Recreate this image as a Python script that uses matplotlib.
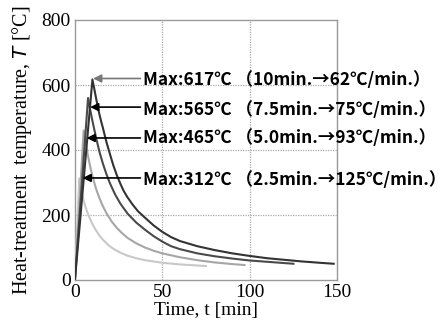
import matplotlib
matplotlib.use("Agg")
import matplotlib.pyplot as plt

# --- data ---
t_617 = [0, 10, 11, 12, 13, 14, 15, 16, 18, 20, 22, 24, 26, 28, 30, 33, 36, 40, 45,
         50, 55, 60, 70, 80, 90, 100, 110, 120, 130, 140, 148]
T_617 = [0, 617, 590, 562, 535, 510, 488, 468, 425, 388, 352, 322, 296, 273, 255, 232, 212, 192, 168,
         148, 132, 120, 104, 92, 82, 74, 67, 62, 57, 53, 50]

t_565 = [0, 7.5, 8.5, 10, 12, 14, 16, 18, 20, 23, 26, 30, 35, 40, 45, 50, 55, 60, 70, 80,
         90, 100, 110, 120, 125]
T_565 = [0, 560, 530, 490, 440, 395, 358, 326, 298, 263, 235, 205, 177, 155, 135, 118, 104, 95, 82, 73,
         66, 60, 56, 52, 50]

t_465 = [0, 5, 6, 7, 8, 9, 10, 12, 14, 16, 18, 21, 24, 27, 30, 35, 40, 45, 50, 60, 70, 80, 90, 97]
T_465 = [0, 460, 425, 395, 368, 343, 320, 282, 252, 227, 206, 180, 160, 144, 130, 113, 100, 90, 82,
         70, 61, 54, 49, 46]

t_312 = [0, 2.5, 3, 4, 5, 6, 7, 8, 10, 12, 14, 16, 19, 22, 26, 30, 35, 40, 50, 60, 75]
T_312 = [0, 312, 295, 268, 245, 226, 210, 196, 172, 153, 137, 124, 108, 96, 84, 75, 67, 61, 53, 48, 43]

labels = ["Max:617℃ （10min.→62℃/min.）",
          "Max:565℃ （7.5min.→75℃/min.）",
          "Max:465℃ （5.0min.→93℃/min.）",
          "Max:312℃ （2.5min.→125℃/min.）"]
label_T = [615, 523, 437, 308]          # label heights (data units)
arrow_tip_t = [10.4, 8.7, 6.7, 4.4]
arrow_tip_T = [620, 532, 437, 314]
arrow_colors = ["#777777", "black", "black", "black"]

xticks = [0, 50, 100, 150]
yticks = [0, 200, 400, 600, 800]

fig = plt.figure(figsize=(4.46, 3.2), dpi=100)
ax = fig.add_axes([0.168, 0.125, 0.588, 0.8125])

series = [(t_312, T_312, "#c8c8c8"), (t_465, T_465, "#a6a6a6"),
          (t_565, T_565, "#4a4a4a"), (t_617, T_617, "#333333")]
for t, T, c in series:
    ax.plot(t, T, color=c, lw=1.5, solid_joinstyle="round", zorder=3)

ax.set_xlim(0, 150)
ax.set_ylim(0, 800)
ax.set_xticks(xticks)
ax.set_yticks(yticks)
ax.tick_params(length=0, labelsize=14, pad=3)
for lab in ax.get_xticklabels() + ax.get_yticklabels():
    lab.set_family("Liberation Serif")
for s in ax.spines.values():
    s.set_color("#999999")
    s.set_linewidth(1.0)

for y in [200, 400, 600]:
    ax.axhline(y, color="#aaaaaa", lw=0.9, ls=(0, (1, 1)), zorder=1)
for x in [50, 100]:
    ax.axvline(x, color="#aaaaaa", lw=0.9, ls=(0, (1, 1)), zorder=1)

ax.set_ylabel("Heat-treatment  temperature, $T$ [°C]", family="Liberation Serif",
              fontsize=14.5, labelpad=5)
ax.set_xlabel("Time, t [min]", family="Liberation Serif", fontsize=14, labelpad=0.5)

for lab, ly, tt, tT, ac in zip(labels, label_T, arrow_tip_t, arrow_tip_T, arrow_colors):
    ax.annotate("", xy=(tt, tT), xytext=(37.5, tT),
                arrowprops=dict(arrowstyle="-|>", color=ac, lw=1.2,
                                mutation_scale=12, shrinkA=0, shrinkB=0),
                zorder=4)
    ax.text(39.2, ly, lab, fontsize=12.5, fontweight="bold",
            family=["Noto Sans CJK JP", "DejaVu Sans"], va="center", ha="left",
            clip_on=False, zorder=5)

fig.savefig("out.png", dpi=100)
